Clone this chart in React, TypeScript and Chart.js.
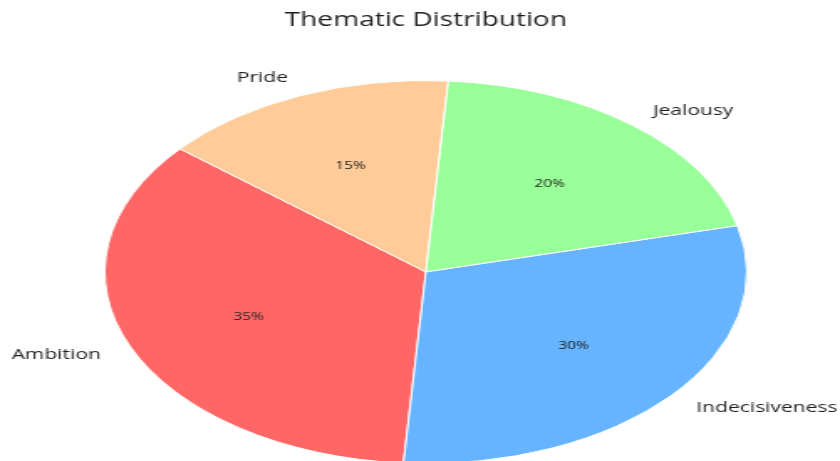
import React, { useEffect, useRef } from 'react';
import { Chart, registerables } from 'chart.js';

Chart.register(...registerables);

// Data (ordered clockwise as drawn)
const categories: string[] = ['Ambition', 'Pride', 'Jealousy', 'Indecisiveness'];
const shares: number[] = [35, 15, 20, 30];
const sliceColors: string[] = ['#ff6666', '#ffcc99', '#99ff99', '#66b3ff'];
const chartTitle = 'Thematic Distribution';

// Internal canvas is stretched horizontally to make the elliptical pie
const INNER_W = 501;
const INNER_H = 470;
const SX = 840 / INNER_W;
const TEXT_STRETCH = 1.4;
const FONT = '"Open Sans", "DejaVu Sans", sans-serif';

function drawText(
  ctx: CanvasRenderingContext2D,
  text: string,
  x: number,
  y: number,
  align: CanvasTextAlign,
  font: string,
  color: string
) {
  ctx.save();
  ctx.translate(x, y);
  ctx.scale(TEXT_STRETCH / SX, 1);
  ctx.font = font;
  ctx.fillStyle = color;
  ctx.textAlign = align;
  ctx.textBaseline = 'middle';
  ctx.fillText(text, 0, 0);
  ctx.restore();
}

const labelPlugin = {
  id: 'pieLabels',
  afterDraw(chart: any) {
    const ctx: CanvasRenderingContext2D = chart.ctx;
    const meta = chart.getDatasetMeta(0);
    let cxTitle = 0;
    meta.data.forEach((arc: any, i: number) => {
      const p = arc.getProps(['x', 'y', 'startAngle', 'endAngle', 'outerRadius'], true);
      cxTitle = p.x;
      const mid = (p.startAngle + p.endAngle) / 2;
      const c = Math.cos(mid);
      const s = Math.sin(mid);
      const lx = p.x + 1.1 * p.outerRadius * c;
      const ly = p.y + 1.1 * p.outerRadius * s;
      drawText(ctx, categories[i], lx, ly, c < 0 ? 'right' : 'left', `500 15px ${FONT}`, '#1e1e1e');
      const px = p.x + 0.6 * p.outerRadius * c;
      const py = p.y + 0.6 * p.outerRadius * s;
      drawText(ctx, `${shares[i]}%`, px, py, 'center', `500 11px ${FONT}`, '#222222');
    });
    drawText(ctx, chartTitle, cxTitle, 20, 'center', `500 20px ${FONT}`, '#1e1e1e');
  },
};

export default function App() {
  const ref = useRef<HTMLCanvasElement | null>(null);

  useEffect(() => {
    if (!ref.current) return;
    const chart = new Chart(ref.current, {
      type: 'pie',
      data: {
        labels: categories,
        datasets: [
          {
            data: shares,
            backgroundColor: sliceColors,
            borderColor: '#ffffff',
            borderWidth: 1,
          },
        ],
      },
      options: {
        responsive: false,
        animation: false,
        rotation: 184,
        layout: { padding: { top: 80, left: 62, right: 55, bottom: 6 } },
        plugins: {
          legend: { display: false },
          tooltip: { enabled: false },
          title: { display: false },
        },
      },
      plugins: [labelPlugin],
    });
    return () => chart.destroy();
  }, []);

  return (
    <div
      style={{
        position: 'fixed',
        top: 0,
        left: 0,
        width: 840,
        height: 461,
        overflow: 'hidden',
        background: '#ffffff',
      }}
    >
      <canvas
        ref={ref}
        width={INNER_W}
        height={INNER_H}
        style={{ display: 'block', transform: `scale(${SX}, 1)`, transformOrigin: '0 0' }}
      />
    </div>
  );
}
